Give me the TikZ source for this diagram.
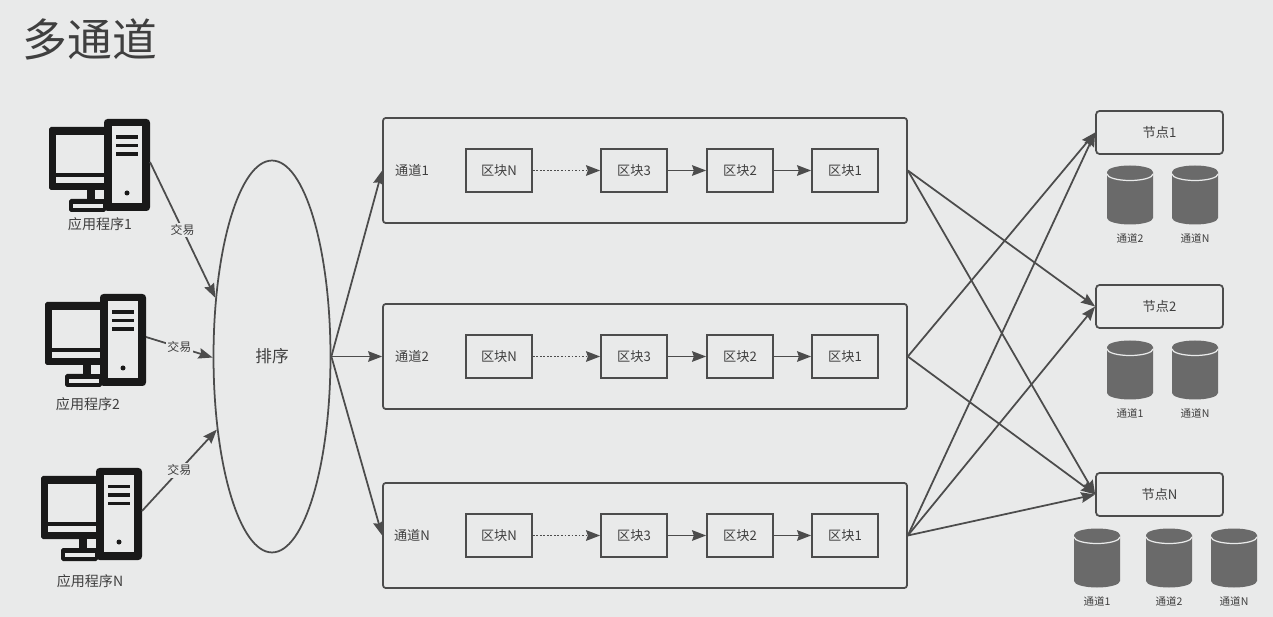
\documentclass[tikz,border=0pt]{standalone}
\usepackage{fontspec}
\setmainfont{Noto Sans CJK SC}
\usetikzlibrary{shapes.geometric, arrows.meta}
\definecolor{paper}{HTML}{E9EAEA}
\definecolor{ink}{HTML}{3F3F3F}
\definecolor{edge}{HTML}{4C4C4C}
\definecolor{barrel}{HTML}{6A6A6A}
\tikzstyle{arrow} = [line width=1pt, draw=edge, -{Stealth[length=8pt,width=6pt,inset=1pt]}]
\tikzstyle{chain} = [draw=edge, line width=1pt, text=ink, font=\fontsize{7.5pt}{9pt}\selectfont, inner sep=0pt]
\tikzstyle{channel} = [chain, rounded corners=1.5pt, minimum width=10.48cm, minimum height=2.1cm]
\tikzstyle{block} = [chain, minimum width=1.32cm, minimum height=0.86cm]
\tikzstyle{peer} = [chain, rounded corners=2pt, minimum width=2.54cm, minimum height=0.86cm]
\tikzstyle{caption} = [text=ink, font=\fontsize{8pt}{10pt}\selectfont, inner sep=0pt]
\tikzstyle{small} = [text=ink, font=\fontsize{6pt}{7pt}\selectfont, inner sep=0pt]
\tikzstyle{trade} = [text=ink, fill=paper, font=\fontsize{6.8pt}{8pt}\selectfont, inner sep=1pt]
\tikzset{
  pc/.pic={
    \fill[black!90, rounded corners=1pt] (0,8) rectangle (57,71);
    \fill[black!90, rounded corners=1pt] (20,80) rectangle (57,93);
    \fill[black!90] (38,70) rectangle (46,82);
    \fill[black!90, rounded corners=2pt] (55,0) rectangle (101,92);
    \fill[paper] (7,16) rectangle (55,54);
    \fill[paper] (7,58) rectangle (55,64);
    \fill[paper] (46,71) rectangle (55,80);
    \fill[paper] (24,85) rectangle (54,89);
    \fill[paper] (63,7) rectangle (93,84);
    \fill[black!90] (67,16.5) rectangle (89,20);
    \fill[black!90] (67,25) rectangle (89,28.5);
    \fill[black!90] (67,33.5) rectangle (89,37);
    \fill[black!90] (78,74) circle (2.5);
    \coordinate (-port) at (101,43);
  },
  db/.pic={
    \fill[barrel] (0,7) -- (0,53) arc[start angle=180, end angle=0, x radius=23, y radius=6.5]
      -- (46,7) arc[start angle=0, end angle=-180, x radius=23, y radius=6.5] -- cycle;
    \draw[paper, line width=0.7pt] (0,9) arc[start angle=180, end angle=0, x radius=23, y radius=6.5];
  }
}

\begin{document}
\begin{tikzpicture}[x=0.02cm, y=-0.02cm]
\useasboundingbox[fill=paper] (0,0) rectangle (1273,617);
% Title
\node[text=ink, font=\fontsize{25.5pt}{30pt}\selectfont, inner sep=0pt] (title) at (90,39) {多通道};

% Clients
\pic (pc1) at (49,119) {pc};
\pic (pc2) at (45,294) {pc};
\pic (pcN) at (41,468) {pc};
\node[caption] (app1) at (100,224) {应用程序1};
\node[caption] (app2) at (88,404) {应用程序2};
\node[caption] (appN) at (90,581) {应用程序N};

% Ordering
\node[ellipse, draw=edge, line width=1pt, minimum width=2.34cm, minimum height=7.84cm, inner sep=0pt,
  text=ink, font=\fontsize{9.5pt}{11pt}\selectfont] (order) at (272,356.5) {排序};

\draw[arrow] (pc1-port) -- node[trade] (tx1) {交易} (order.134);
\draw[arrow] (pc2-port) -- node[trade] (tx2) {交易} (order.181);
\draw[arrow] (pcN-port) -- node[trade] (txN) {交易} (order.233);

% Channels
\foreach \cid/\cy in {1/170.5, 2/356.5, N/535.5} {
    \node[channel] (ch\cid) at (645,\cy) {};
    \node[chain, draw=none] (lab\cid) at (412,\cy) {通道\cid};
    \node[block] (ch\cid-bN) at (499,\cy) {区块N};
    \node[block] (ch\cid-b3) at (634,\cy) {区块3};
    \node[block] (ch\cid-b2) at (740,\cy) {区块2};
    \node[block] (ch\cid-b1) at (845,\cy) {区块1};
    \draw[arrow, densely dotted] (ch\cid-bN) -- (ch\cid-b3);
    \draw[arrow] (ch\cid-b3) -- (ch\cid-b2);
    \draw[arrow] (ch\cid-b2) -- (ch\cid-b1);
    \draw[arrow] (order.east) -- (ch\cid.west);
}

% Peers
\node[peer] (peer1) at (1159.5,132.5) {节点1};
\node[peer] (peer2) at (1159.5,306.5) {节点2};
\node[peer] (peerN) at (1159.5,494.5) {节点N};

\draw[arrow] (ch1.east) -- (peer2.west);
\draw[arrow] (ch1.east) -- (peerN.west);
\draw[arrow] (ch2.east) -- (peer1.west);
\draw[arrow] (ch2.east) -- (peerN.west);
\draw[arrow] (chN.east) -- (peer1.west);
\draw[arrow] (chN.east) -- (peer2.west);
\draw[arrow] (chN.east) -- (peerN.west);

% Ledgers
\foreach \dx/\dy/\dlabel/\dname in {1107/165/通道2/a, 1172/165/通道N/b, 1107/340/通道1/c, 1172/340/通道N/d,
    1074/528/通道1/e, 1146/528/通道2/f, 1211/528/通道N/g} {
    \pic at (\dx,\dy) {db};
    \node[small] (db\dname) at (\dx+23,\dy+73) {\dlabel};
}
\end{tikzpicture}
\end{document}
